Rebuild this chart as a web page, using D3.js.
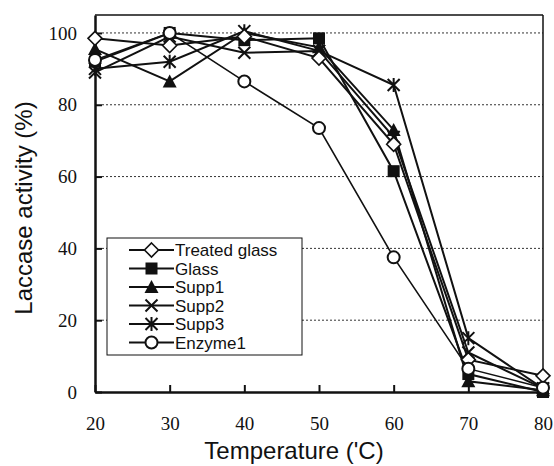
<!DOCTYPE html>
<html>
<head>
<meta charset="utf-8">
<script src="https://cdn.jsdelivr.net/npm/d3@7"></script>
<style>
  html, body { margin: 0; padding: 0; background: #fff; }
  svg { display: block; }
</style>
</head>
<body>
<svg id="chart" width="554" height="466"></svg>
<script>
const temperatures = [20, 30, 40, 50, 60, 70, 80];
const treatedGlass = [98.5, 96.5, 99, 93, 69, 9, 4.5];
const glass        = [92, 100, 98, 98.5, 61.5, 5, 0];
const supp1        = [95.5, 86.5, 100, 96, 73, 3, 0.5];
const supp2        = [89, 99, 94.5, 95, 71, 11, 1];
const supp3        = [90, 92, 100.5, 95, 85.5, 15, 1];
const enzyme1      = [92.5, 100, 86.5, 73.5, 37.5, 6.5, 1.2];
const seriesNames  = ["Treated glass", "Glass", "Supp1", "Supp2", "Supp3", "Enzyme1"];
const seriesValues = [treatedGlass, glass, supp1, supp2, supp3, enzyme1];
const markerTypes  = ["diamond", "square", "triangle", "cross", "asterisk", "circle"];
const xTicks = [20, 30, 40, 50, 60, 70, 80];
const yTicks = [0, 20, 40, 60, 80, 100];

const SERIF = "Liberation Serif, Tinos, Noto Serif, DejaVu Serif, FreeSerif, Times New Roman, serif";
const SANS = "Liberation Sans, Arimo, Arial, DejaVu Sans, sans-serif";

const svg = d3.select("#chart");
const x = d3.scaleLinear().domain([20, 80]).range([95, 543]);
const y = d3.scaleLinear().domain([0, 105]).range([392, 15]);

// grid lines (dotted)
svg.append("g").selectAll("line").data(yTicks.filter(d => d > 0)).join("line")
  .attr("x1", x(20) + 7).attr("x2", x(80))
  .attr("y1", d => y(d)).attr("y2", d => y(d))
  .attr("stroke", "#333").attr("stroke-width", 1).attr("stroke-dasharray", "2,2");

// frame top and right
svg.append("line").attr("x1", x(20)).attr("x2", x(80)).attr("y1", y(105)).attr("y2", y(105))
  .attr("stroke", "#111").attr("stroke-width", 1.5);
svg.append("line").attr("x1", x(80)).attr("x2", x(80)).attr("y1", y(105)).attr("y2", y(0))
  .attr("stroke", "#111").attr("stroke-width", 1.5);

// axes
const xAxis = d3.axisBottom(x).tickValues(xTicks).tickSizeInner(-7).tickSizeOuter(0).tickPadding(25);
const gx = svg.append("g").attr("transform", `translate(0,${y(0)})`).call(xAxis)
  .attr("font-family", SERIF).attr("font-size", 19);
gx.select(".domain").attr("stroke", "#111").attr("stroke-width", 2.5);
gx.selectAll(".tick line").attr("stroke", "#111").attr("stroke-width", 2);
gx.selectAll(".tick text").attr("fill", "#111").style("font-family", SERIF).style("font-size", "19px");

const yAxis = d3.axisLeft(y).tickValues(yTicks).tickSizeInner(-7).tickSizeOuter(0).tickPadding(18);
const gy = svg.append("g").attr("transform", `translate(${x(20)},0)`).call(yAxis)
  .attr("font-family", SERIF).attr("font-size", 19);
gy.select(".domain").attr("stroke", "#111").attr("stroke-width", 2.5);
gy.selectAll(".tick line").attr("stroke", "#111").attr("stroke-width", 2);
gy.selectAll(".tick text").attr("fill", "#111").style("font-family", SERIF).style("font-size", "19px");

// axis titles
svg.append("text").attr("x", 294).attr("y", 459).attr("text-anchor", "middle")
  .style("font-family", SANS).style("font-size", "24px").attr("fill", "#111")
  .text("Temperature ('C)");
svg.append("text").attr("transform", "translate(32,208) rotate(-90)").attr("text-anchor", "middle")
  .style("font-family", SANS).style("font-size", "24px").attr("fill", "#111")
  .text("Laccase activity (%)");

// marker drawing
function drawMarker(g, type, cx, cy) {
  if (type === "diamond") {
    g.append("path").attr("d", `M${cx},${cy-7}L${cx+7},${cy}L${cx},${cy+7}L${cx-7},${cy}Z`)
      .attr("fill", "#fff").attr("stroke", "#111").attr("stroke-width", 1.6);
  } else if (type === "square") {
    g.append("rect").attr("x", cx-6).attr("y", cy-6).attr("width", 12).attr("height", 12)
      .attr("fill", "#111");
  } else if (type === "triangle") {
    g.append("path").attr("d", `M${cx},${cy-7}L${cx+7},${cy+6}L${cx-7},${cy+6}Z`).attr("fill", "#111");
  } else if (type === "cross") {
    g.append("path").attr("d", `M${cx-6},${cy-6}L${cx+6},${cy+6}M${cx-6},${cy+6}L${cx+6},${cy-6}`)
      .attr("stroke", "#111").attr("stroke-width", 2);
  } else if (type === "asterisk") {
    g.append("path").attr("d", `M${cx-6},${cy-6}L${cx+6},${cy+6}M${cx-6},${cy+6}L${cx+6},${cy-6}M${cx},${cy-7}L${cx},${cy+7}`)
      .attr("stroke", "#111").attr("stroke-width", 2);
  } else if (type === "circle") {
    g.append("circle").attr("cx", cx).attr("cy", cy).attr("r", 6)
      .attr("fill", "#fff").attr("stroke", "#111").attr("stroke-width", 2);
  }
}

const line = d3.line().x((d, i) => x(temperatures[i])).y(d => y(d));
const linesG = svg.append("g");
seriesValues.forEach((vals, si) => {
  linesG.append("path").datum(vals).attr("d", line).attr("fill", "none")
    .attr("stroke", "#111").attr("stroke-width", si === 5 ? 1.6 : 2);
});
const markersG = svg.append("g");
[3, 4, 2, 1, 0, 5].forEach(si => {
  seriesValues[si].forEach((v, i) => drawMarker(markersG, markerTypes[si], x(temperatures[i]), y(v)));
});

// legend
const leg = svg.append("g");
leg.append("rect").attr("x", 107).attr("y", 238).attr("width", 195).attr("height", 117)
  .attr("fill", "#fff").attr("stroke", "#111").attr("stroke-width", 1);
seriesNames.forEach((name, i) => {
  const cy = 250 + i * 18.5;
  leg.append("line").attr("x1", 129).attr("x2", 174).attr("y1", cy).attr("y2", cy)
    .attr("stroke", "#111").attr("stroke-width", 2);
  drawMarker(leg, markerTypes[i], 151.5, cy);
  leg.append("text").attr("x", 175).attr("y", cy + 6)
    .style("font-family", SANS).style("font-size", "17px").attr("fill", "#111").text(name);
});
</script>
</body>
</html>
